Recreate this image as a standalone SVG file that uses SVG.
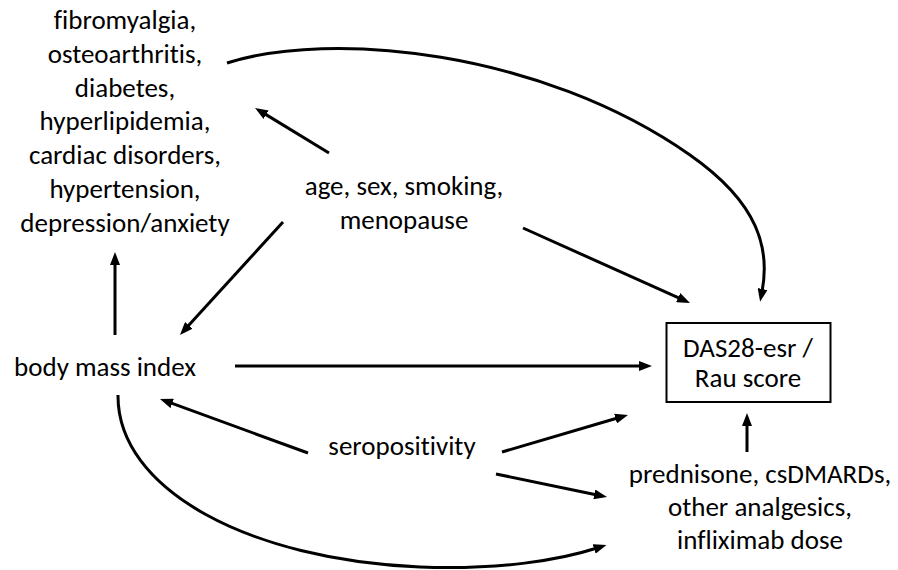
<svg xmlns="http://www.w3.org/2000/svg" width="898" height="570" viewBox="0 0 898 570">
<style>
text{font-family:Carlito,Lato,"Open Sans","Liberation Sans",sans-serif;font-size:27px;fill:#000;text-anchor:middle;font-variant-ligatures:none}
.c{fill:none;stroke:#000;stroke-width:3;marker-end:url(#ah)}
.box{fill:#fff;stroke:#000;stroke-width:2}
</style>
<defs>
<marker id="ah" viewBox="0 0 13 10" refX="3" refY="5" markerWidth="13" markerHeight="10" markerUnits="userSpaceOnUse" orient="auto"><path d="M0,0 L13,5 L0,10 z" fill="#000"/></marker>
</defs>
<rect width="898" height="570" fill="#fff"/>
<g id="connectors">
<path class="c" d="M329,153 L263.6,113.1"/>
<path class="c" d="M283,222 L186.7,327.6"/>
<path class="c" d="M523,228 L680.9,298.9"/>
<path class="c" d="M227,63 C330,30 540,50 690,155 C760,204 770,250 762,292"/>
<path class="c" d="M115,335 L115,262"/>
<path class="c" d="M235,366 L642,366"/>
<path class="c" d="M308,453 L169.4,402.4"/>
<path class="c" d="M502,452 L618.4,417.8"/>
<path class="c" d="M496,474 L597.2,495"/>
<path class="c" d="M118,395 C117,490 250,560 420,567 C500,570 560,560 597,548"/>
<path class="c" d="M747,452 L747,423"/>
</g>
<g id="comorbidities">
<text x="125" y="29">fibromyalgia,</text>
<text x="125" y="63">osteoarthritis,</text>
<text x="125" y="97">diabetes,</text>
<text x="125" y="130">hyperlipidemia,</text>
<text x="125" y="164">cardiac disorders,</text>
<text x="125" y="198">hypertension,</text>
<text x="125" y="232">depression/anxiety</text>
</g>
<g id="demographics">
<text x="404" y="195">age, sex, smoking,</text>
<text x="404" y="229">menopause</text>
</g>
<g id="bmi">
<text x="105" y="376">body mass index</text>
</g>
<g id="seropositivity">
<text x="402" y="455">seropositivity</text>
</g>
<g id="outcome">
<rect class="box" x="666.5" y="323" width="164" height="79"/>
<text x="748" y="357">DAS28-esr /</text>
<text x="748" y="387">Rau score</text>
</g>
<g id="medications">
<text x="760" y="483">prednisone, csDMARDs,</text>
<text x="760" y="516">other analgesics,</text>
<text x="760" y="549">infliximab dose</text>
</g>
</svg>
